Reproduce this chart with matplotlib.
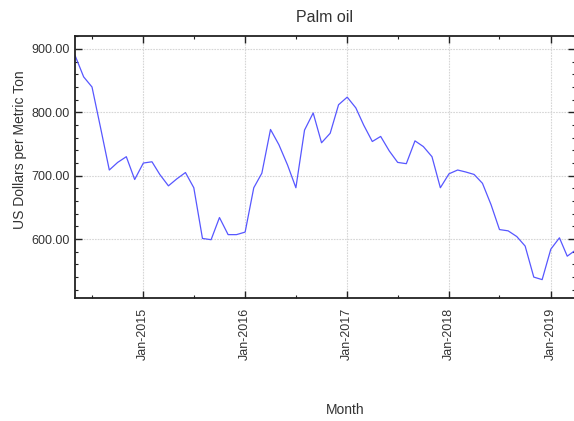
import numpy as np
import pandas as pd
import matplotlib
matplotlib.use("Agg")
import matplotlib.pyplot as plt
import matplotlib.dates as mdates
from matplotlib.ticker import MultipleLocator, FormatStrFormatter

plt.rcParams['font.family'] = ['Liberation Sans', 'DejaVu Sans']

# monthly palm oil price, May 2014 .. Apr 2019 (USD per metric ton)
start_month = "2014-05-01"
prices = [
    890, 856, 840, 775, 709, 721, 730, 694,
    720, 722, 702, 684, 695, 705, 681, 601, 599, 634, 607, 607,
    611, 681, 704, 773, 749, 717, 681, 772, 799, 752, 767, 812,
    824, 807, 780, 754, 762, 739, 721, 719, 755, 746, 730, 681,
    703, 709, 706, 702, 688, 654, 615, 613, 604, 589, 540, 536,
    584, 602, 573, 583,
]
months = pd.date_range(start_month, periods=len(prices), freq="MS")

title = "Palm oil"
xlabel = "Month"
ylabel = "US Dollars per Metric Ton"
text_col = "#333333"

fig = plt.figure(figsize=(5.74, 4.21), dpi=100)
ax = fig.add_axes([75 / 574, 1 - 298 / 421, 499.5 / 574, 262 / 421])

ax.plot(months, prices, color="#5757ff", lw=0.9)

ax.set_xlim(pd.Timestamp("2014-05-01"), pd.Timestamp("2019-03-27"))
ax.set_ylim(507, 920.5)

ax.xaxis.set_major_locator(mdates.YearLocator())
ax.xaxis.set_major_formatter(mdates.DateFormatter("%b-%Y"))
ax.xaxis.set_minor_locator(mdates.MonthLocator(bymonth=7))
ax.yaxis.set_major_locator(MultipleLocator(100))
ax.yaxis.set_minor_locator(MultipleLocator(20))
ax.yaxis.set_major_formatter(FormatStrFormatter("%.2f"))

ax.grid(True, which="major", color="#d6d6d6", lw=0.8, ls=(0, (1.5, 1)))
ax.tick_params(which="both", direction="in", top=True, right=True,
               colors="#222222", labelcolor=text_col, labelsize=9)
ax.tick_params(which="major", length=5, width=1)
ax.tick_params(which="minor", length=2.5, width=0.8)
ax.tick_params(axis="x", which="major", pad=7, labelrotation=90)
for sp in ax.spines.values():
    sp.set_linewidth(1.3)
    sp.set_color("#222222")

ax.set_title(title, fontsize=11.5, color=text_col, pad=10)
ax.set_xlabel(xlabel, fontsize=10, color=text_col)
ax.xaxis.set_label_coords(0.541, -0.40)
ax.set_ylabel(ylabel, fontsize=10, color=text_col)
ax.yaxis.set_label_coords(-0.097, 0.565)

fig.savefig("out.png", dpi=100)
